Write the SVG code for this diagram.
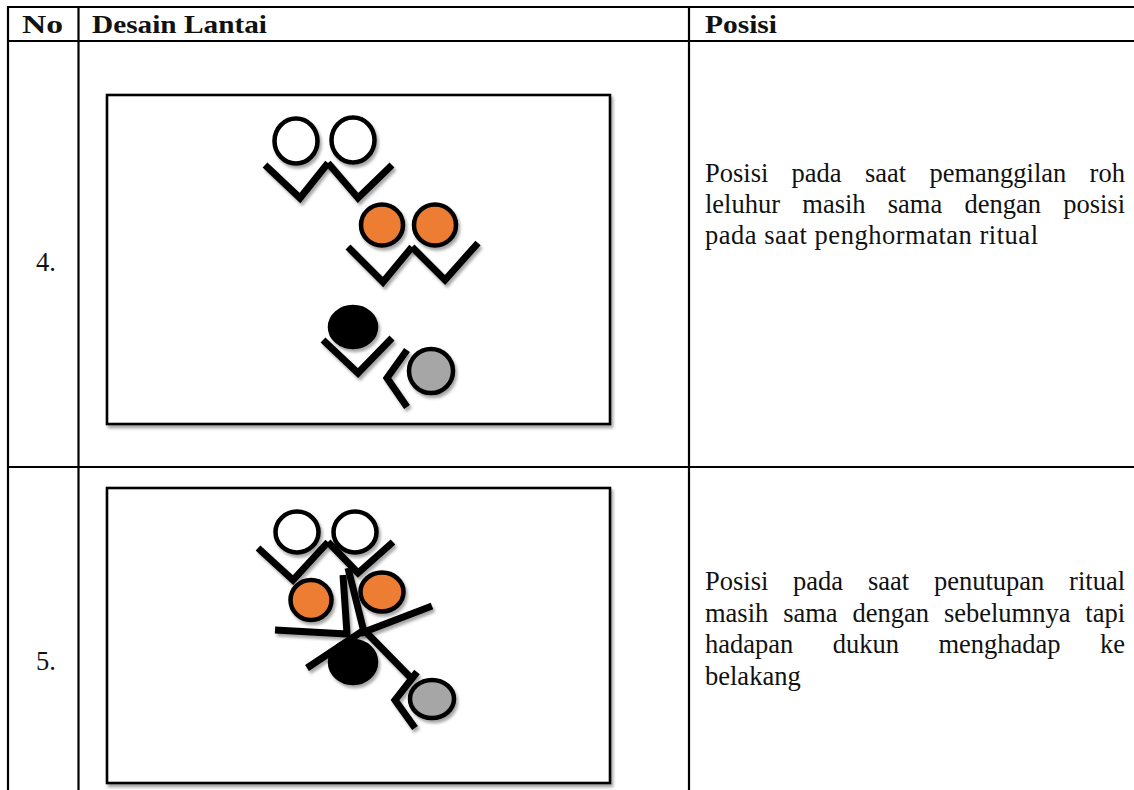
<svg xmlns="http://www.w3.org/2000/svg" width="1134" height="790" viewBox="0 0 1134 790">
<defs>
<filter id="sh" x="-20%" y="-20%" width="150%" height="150%">
<feDropShadow dx="2" dy="3" stdDeviation="1.5" flood-color="#000" flood-opacity="0.35"/>
</filter>
<style>
.grid{stroke:#000;stroke-width:2.2;fill:none}
.box{fill:#fff;stroke:#000;stroke-width:2.6}
.arm{fill:none;stroke:#000;stroke-width:7;stroke-linejoin:miter;stroke-linecap:butt}
.hd{stroke:#000;stroke-width:4.5}
.w{fill:#fff}
.o{fill:#ED7D31}
.b{fill:#000}
.g{fill:#A6A6A6}
.t{font-family:"Liberation Serif","Times New Roman",serif;font-size:26.5px;fill:#111}
.th{font-family:"Liberation Serif","Times New Roman",serif;font-size:26px;font-weight:bold;fill:#111}
</style>
</defs>
<rect width="1134" height="790" fill="#fff"/>
<g id="table">
<line class="grid" x1="8" y1="7" x2="1134" y2="7"/>
<line class="grid" x1="8" y1="41" x2="1134" y2="41"/>
<line class="grid" x1="8" y1="467" x2="1134" y2="467"/>
<line class="grid" x1="8" y1="6" x2="8" y2="790"/>
<line class="grid" x1="78.5" y1="6" x2="78.5" y2="790"/>
<line class="grid" x1="689" y1="6" x2="689" y2="790"/>
</g>
<g id="header">
<text class="th" x="22" y="33" textLength="41" lengthAdjust="spacingAndGlyphs">No</text>
<text class="th" x="92" y="33" textLength="175" lengthAdjust="spacingAndGlyphs">Desain Lantai</text>
<text class="th" x="705" y="33" textLength="72" lengthAdjust="spacingAndGlyphs">Posisi</text>
</g>
<g id="row4">
<text class="t" x="36" y="271">4.</text>
<rect class="box" x="107" y="95" width="503" height="329" filter="url(#sh)"/>
<g id="r4-white1" filter="url(#sh)">
<ellipse class="w hd" cx="296" cy="141" rx="21.5" ry="22.5"/>
<polyline class="arm" points="265,165 300,198 328,163"/>
</g>
<g id="r4-white2" filter="url(#sh)">
<ellipse class="w hd" cx="353" cy="140" rx="21.5" ry="22.5"/>
<polyline class="arm" points="328,163 358,198 392,165"/>
</g>
<g id="r4-orange1" filter="url(#sh)">
<ellipse class="o hd" cx="382" cy="225" rx="21" ry="20.5"/>
<polyline class="arm" points="348,247 383,282 412,247"/>
</g>
<g id="r4-orange2" filter="url(#sh)">
<ellipse class="o hd" cx="435" cy="225" rx="21" ry="20.5"/>
<polyline class="arm" points="412,247 445,280 478,243"/>
</g>
<g id="r4-black" filter="url(#sh)">
<ellipse class="b hd" cx="353" cy="327" rx="23" ry="20"/>
<polyline class="arm" points="323,340 358,373 392,338"/>
</g>
<g id="r4-gray" filter="url(#sh)">
<ellipse class="g hd" cx="431" cy="371" rx="22" ry="22"/>
<polyline class="arm" points="407,350 387,378 407,407"/>
</g>
<g id="r4-text">
<text class="t" y="181.5"><tspan x="705">Posisi</tspan><tspan x="791.6">pada</tspan><tspan x="864.9">saat</tspan><tspan x="929.4">pemanggilan</tspan><tspan x="1089.6">roh</tspan></text>
<text class="t" y="212.5"><tspan x="705">leluhur</tspan><tspan x="802.3">masih</tspan><tspan x="887.8">sama</tspan><tspan x="964.5">dengan</tspan><tspan x="1063.2">posisi</tspan></text>
<text class="t" x="705" y="243.5" textLength="333" lengthAdjust="spacing">pada saat penghormatan ritual</text>
</g>
</g>
<g id="row5">
<text class="t" x="36" y="670">5.</text>
<rect class="box" x="107" y="488" width="503" height="295" filter="url(#sh)"/>
<g id="r5-white1" filter="url(#sh)">
<ellipse class="w hd" cx="297" cy="532" rx="21.5" ry="20.5"/>
<polyline class="arm" points="258,548 293,580 328,542"/>
</g>
<g id="r5-white2" filter="url(#sh)">
<ellipse class="w hd" cx="355" cy="532" rx="21.5" ry="20.5"/>
<polyline class="arm" points="328,542 358,573 393,542"/>
</g>
<g id="r5-orange1" filter="url(#sh)">
<ellipse class="o hd" cx="311" cy="600" rx="20.5" ry="20"/>
<polyline class="arm" points="275,630 347,634 343,575"/>
</g>
<g id="r5-orange2" filter="url(#sh)">
<ellipse class="o hd" cx="382" cy="592" rx="21.5" ry="19.5"/>
<polyline class="arm" points="348,568 364,632 432,606"/>
</g>
<g id="r5-black" filter="url(#sh)">
<ellipse class="b hd" cx="353" cy="662" rx="23" ry="21"/>
<polyline class="arm" points="307,668 364,630 411,678"/>
</g>
<g id="r5-gray" filter="url(#sh)">
<ellipse class="g hd" cx="432" cy="699" rx="22" ry="19"/>
<polyline class="arm" points="417,672 395,700 415,728"/>
</g>
<g id="r5-text">
<text class="t" y="590"><tspan x="705">Posisi</tspan><tspan x="793.1">pada</tspan><tspan x="867.9">saat</tspan><tspan x="933.9">penutupan</tspan><tspan x="1069.1">ritual</tspan></text>
<text class="t" y="621.5"><tspan x="705">masih</tspan><tspan x="783.2">sama</tspan><tspan x="852.5">dengan</tspan><tspan x="943.9">sebelumnya</tspan><tspan x="1085.3">tapi</tspan></text>
<text class="t" y="653"><tspan x="705">hadapan</tspan><tspan x="832.7">dukun</tspan><tspan x="938.4">menghadap</tspan><tspan x="1100">ke</tspan></text>
<text class="t" x="705" y="684.5">belakang</text>
</g>
</g>
</svg>
